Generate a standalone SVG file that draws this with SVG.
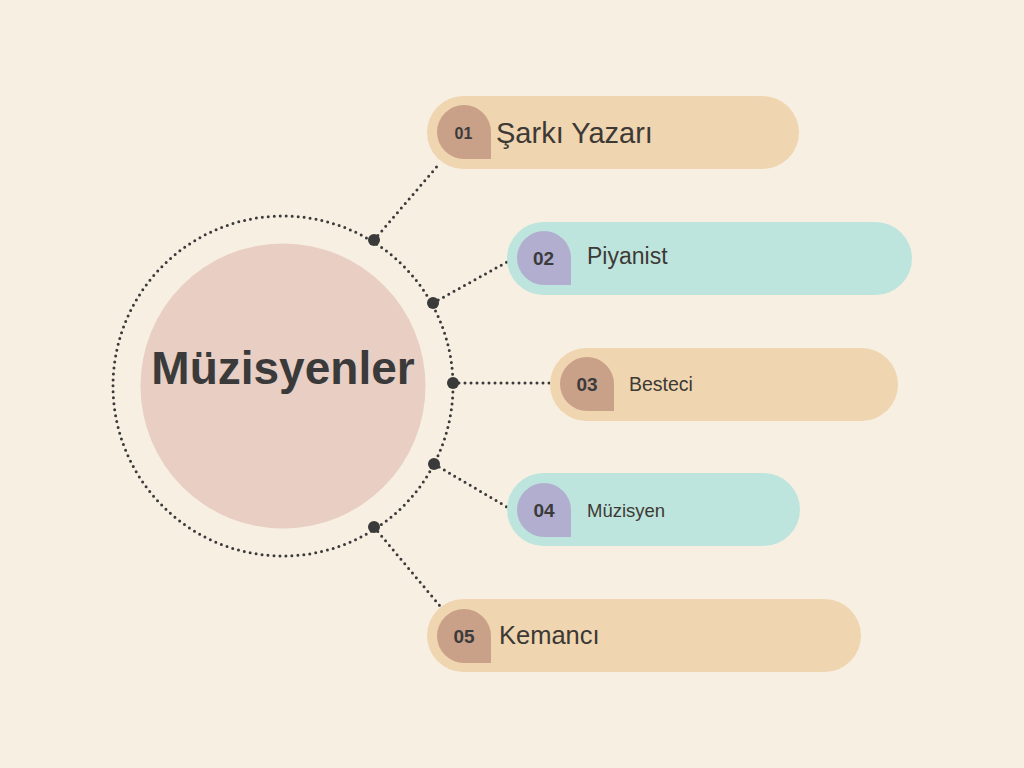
<svg xmlns="http://www.w3.org/2000/svg" width="1024" height="768" viewBox="0 0 1024 768">
<style>
.dot-line{fill:none;stroke:#3a3a3a;stroke-width:3;stroke-linecap:round;stroke-dasharray:0 6}
.joint{fill:#3a3a3a}
.pill-tan{fill:#efd5b0}
.pill-teal{fill:#bde5dd}
.badge-tan{fill:#c9a088}
.badge-lav{fill:#b1aecf}
.num{font-family:"Liberation Sans",Arial,sans-serif;font-weight:bold;fill:#3b3b3b;text-anchor:middle}
.lbl{font-family:"Liberation Sans",Arial,sans-serif;fill:#3d3935}
</style>
<rect width="1024" height="768" fill="#f7efe2"/>
<g id="center">
<circle cx="283" cy="386" r="170" class="dot-line"/>
<circle cx="283" cy="386" r="142.5" fill="#e8cec3"/>
<text x="283" y="384" font-family="'Liberation Sans',Arial,sans-serif" font-weight="bold" font-size="46" fill="#3a3a3a" text-anchor="middle">Müzisyenler</text>
</g>
<g id="connectors">
<line x1="374" y1="240" x2="440" y2="163" class="dot-line"/>
<line x1="433" y1="303" x2="507" y2="262" class="dot-line"/>
<line x1="453" y1="383" x2="550" y2="383" class="dot-line"/>
<line x1="434" y1="464" x2="507" y2="507" class="dot-line"/>
<line x1="374" y1="527" x2="440" y2="606" class="dot-line"/>
<circle cx="374" cy="240" r="6" class="joint"/>
<circle cx="433" cy="303" r="6" class="joint"/>
<circle cx="453" cy="383" r="6" class="joint"/>
<circle cx="434" cy="464" r="6" class="joint"/>
<circle cx="374" cy="527" r="6" class="joint"/>
</g>
<g id="node1">
<rect x="427" y="96" width="372" height="73" rx="36.5" class="pill-tan"/>
<path d="M491 159 L464 159 A27 27 0 0 1 437 132 A27 27 0 0 1 464 105 A27 27 0 0 1 491 132 Z" class="badge-tan"/>
<text x="463.5" y="139" font-size="16" class="num">01</text>
<text x="496" y="143" font-size="29" class="lbl">Şarkı Yazarı</text>
</g>
<g id="node2">
<rect x="507" y="222" width="405" height="73" rx="36.5" class="pill-teal"/>
<path d="M571 285 L544 285 A27 27 0 0 1 517 258 A27 27 0 0 1 544 231 A27 27 0 0 1 571 258 Z" class="badge-lav"/>
<text x="543.5" y="265" font-size="19" class="num">02</text>
<text x="587" y="264" font-size="23" class="lbl">Piyanist</text>
</g>
<g id="node3">
<rect x="550" y="348" width="348" height="73" rx="36.5" class="pill-tan"/>
<path d="M614 411 L587 411 A27 27 0 0 1 560 384 A27 27 0 0 1 587 357 A27 27 0 0 1 614 384 Z" class="badge-tan"/>
<text x="587" y="391" font-size="19" class="num">03</text>
<text x="629" y="391" font-size="19.5" class="lbl">Besteci</text>
</g>
<g id="node4">
<rect x="507" y="473" width="293" height="73" rx="36.5" class="pill-teal"/>
<path d="M571 537 L544 537 A27 27 0 0 1 517 510 A27 27 0 0 1 544 483 A27 27 0 0 1 571 510 Z" class="badge-lav"/>
<text x="544" y="517" font-size="19" class="num">04</text>
<text x="587" y="517" font-size="18.5" class="lbl">Müzisyen</text>
</g>
<g id="node5">
<rect x="427" y="599" width="434" height="73" rx="36.5" class="pill-tan"/>
<path d="M491 663 L464 663 A27 27 0 0 1 437 636 A27 27 0 0 1 464 609 A27 27 0 0 1 491 636 Z" class="badge-tan"/>
<text x="464" y="643" font-size="19" class="num">05</text>
<text x="499" y="644" font-size="25.5" class="lbl">Kemancı</text>
</g>
</svg>
